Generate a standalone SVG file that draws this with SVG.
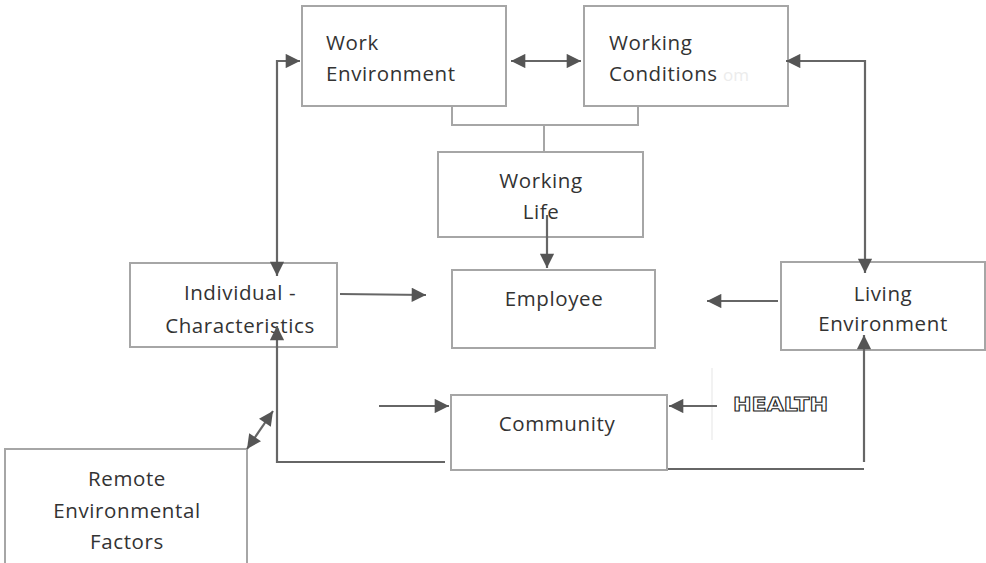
<svg xmlns="http://www.w3.org/2000/svg" width="986" height="563" viewBox="0 0 986 563">
<style>
.box{fill:#fff;stroke:#a6a6a6;stroke-width:2}
.t{font-family:"Open Sans","Liberation Sans",sans-serif;font-size:20.5px;fill:#333;letter-spacing:0.6px}
.c{text-anchor:middle}
.ln{fill:none;stroke:#666;stroke-width:2.2}
.br{fill:none;stroke:#a6a6a6;stroke-width:2}
</style>
<defs>
<marker id="ah" viewBox="0 0 10 10" refX="10" refY="5" markerWidth="7" markerHeight="6.5" orient="auto-start-reverse" markerUnits="strokeWidth">
<path d="M0,0 L10,5 L0,10 z" fill="#555"/>
</marker>
</defs>
<rect width="986" height="563" fill="#fff"/>
<line x1="712" y1="368" x2="712" y2="440" stroke="#eeeeee" stroke-width="1.5"/>
<g id="work-environment">
<rect class="box" x="302" y="6" width="204" height="100"/>
<text class="t" x="326" y="50">Work</text>
<text class="t" x="326" y="81">Environment</text>
</g>
<g id="working-conditions">
<rect class="box" x="584" y="6" width="204" height="100"/>
<text class="t" x="609" y="50">Working</text>
<text class="t" x="609" y="81">Conditions</text>
<text x="723" y="81" style="font-family:'Open Sans',sans-serif;font-size:17px;fill:#ececec">om</text>
</g>
<g id="working-life">
<rect class="box" x="438" y="152" width="205" height="85"/>
<text class="t c" x="541" y="188">Working</text>
<text class="t c" x="541" y="219">Life</text>
</g>
<g id="employee">
<rect class="box" x="452" y="270" width="203" height="78"/>
<text class="t c" x="554" y="306">Employee</text>
</g>
<g id="individual">
<rect class="box" x="130" y="263" width="207" height="84"/>
<text class="t c" x="240" y="300">Individual -</text>
<text class="t c" x="240" y="333">Characteristics</text>
</g>
<g id="living-environment">
<rect class="box" x="781" y="262" width="204" height="88"/>
<text class="t c" x="883" y="301">Living</text>
<text class="t c" x="883" y="331">Environment</text>
</g>
<g id="community">
<rect class="box" x="451" y="395" width="216" height="75"/>
<text class="t c" x="557" y="431">Community</text>
</g>
<g id="health">
<text x="733" y="411" style="font-family:'DejaVu Sans',sans-serif;font-size:19px;font-weight:bold;fill:#fff;stroke:#222;stroke-width:1" textLength="95" lengthAdjust="spacingAndGlyphs">HEALTH</text>
</g>
<g id="remote">
<rect class="box" x="5" y="449" width="242" height="120"/>
<text class="t c" x="127" y="486">Remote</text>
<text class="t c" x="127" y="518">Environmental</text>
<text class="t c" x="127" y="549">Factors</text>
</g>
<g id="connectors">
<polyline class="br" points="452,106 452,125 638,125 638,106"/>
<line class="br" x1="544" y1="125" x2="544" y2="151"/>
<line class="ln" x1="511" y1="61" x2="581" y2="61" marker-start="url(#ah)" marker-end="url(#ah)"/>
<line class="ln" x1="547" y1="215" x2="547" y2="268" marker-end="url(#ah)"/>
<polyline class="ln" points="300,61 277,61 277,276" marker-start="url(#ah)" marker-end="url(#ah)"/>
<polyline class="ln" points="445,462 277,462 277,326" marker-end="url(#ah)"/>
<line class="ln" x1="340" y1="294" x2="426" y2="295" marker-end="url(#ah)"/>
<line class="ln" x1="778" y1="301" x2="707" y2="301" marker-end="url(#ah)"/>
<polyline class="ln" points="786,61 865,61 865,273" marker-start="url(#ah)" marker-end="url(#ah)"/>
<polyline class="ln" points="668,469 864,469"/>
<line class="ln" x1="864" y1="462" x2="864" y2="335" marker-end="url(#ah)"/>
<line class="ln" x1="379" y1="406" x2="449" y2="406" marker-end="url(#ah)"/>
<line class="ln" x1="717" y1="406" x2="669" y2="406" marker-end="url(#ah)"/>
<line class="ln" x1="247" y1="449" x2="273" y2="411" marker-start="url(#ah)" marker-end="url(#ah)"/>
</g>
</svg>
